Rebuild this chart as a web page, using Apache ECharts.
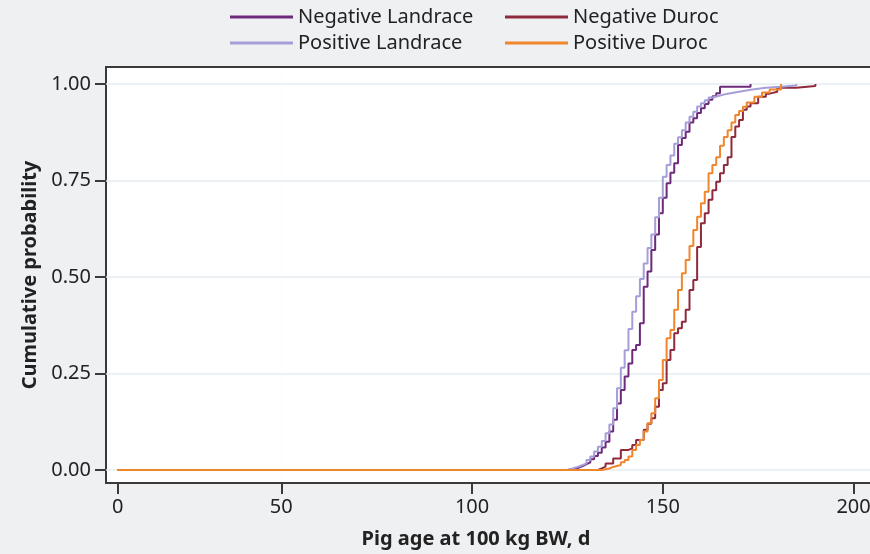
<!DOCTYPE html>
<html><head><meta charset="utf-8">
<script src="https://cdn.jsdelivr.net/npm/echarts@6/dist/echarts.min.js"></script>
<style>html,body{margin:0;padding:0;background:#eff0f2}#c{width:870px;height:554px}</style>
</head><body><div id="c"></div>
<script>
// ---------------- DATA ----------------
const seriesNames = ['Negative Landrace', 'Negative Duroc', 'Positive Landrace', 'Positive Duroc'];
const startDay = 0;

const daysNL = [125,127,128,129,130,131,132,133,134,135,136,137,138,139,140,141,142,143,144,145,146,147,148,149,150,151,152,153,154,155,156,157,158,159,160,161,162,163,164,165,173];
const cumNL  = [0.003,0.006,0.010,0.015,0.020,0.028,0.036,0.045,0.058,0.073,0.100,0.130,0.172,0.207,0.242,0.276,0.311,0.324,0.380,0.475,0.514,0.570,0.610,0.665,0.705,0.743,0.770,0.795,0.842,0.860,0.876,0.900,0.911,0.925,0.937,0.948,0.959,0.968,0.976,0.993,1.000];

const daysND = [133,134,135,137,139,141,142,143,145,146,147,148,149,150,151,152,153,154,155,156,157,158,159,160,161,162,163,164,165,166,167,168,169,170,171,172,173,175,177,178,180,185,190];
const cumND  = [0.004,0.009,0.017,0.030,0.052,0.056,0.065,0.078,0.104,0.120,0.134,0.164,0.207,0.225,0.285,0.311,0.354,0.367,0.384,0.415,0.466,0.492,0.578,0.639,0.665,0.700,0.725,0.747,0.769,0.790,0.810,0.863,0.890,0.907,0.933,0.942,0.950,0.967,0.975,0.980,0.990,0.995,1.000];

const daysPL = [125,126,127,128,129,130,131,132,133,134,135,136,137,138,139,140,141,142,143,144,145,146,147,148,149,150,151,152,153,154,155,156,157,158,159,160,161,162,163,165,167,170,173,177,181,185];
const cumPL  = [0.003,0.006,0.009,0.013,0.017,0.026,0.035,0.048,0.060,0.075,0.095,0.118,0.160,0.212,0.265,0.310,0.365,0.410,0.450,0.495,0.535,0.575,0.610,0.655,0.705,0.760,0.790,0.815,0.845,0.862,0.880,0.900,0.915,0.928,0.942,0.950,0.958,0.965,0.970,0.975,0.980,0.985,0.990,0.993,0.996,1.000];

const daysPD = [134,136,137,139,140,141,142,143,144,145,146,147,148,149,150,151,152,153,154,155,156,157,158,159,160,161,162,163,164,165,166,167,168,169,170,171,172,174,176,178,181];
const cumPD  = [0.004,0.008,0.013,0.020,0.026,0.035,0.052,0.065,0.078,0.100,0.121,0.147,0.186,0.233,0.285,0.341,0.363,0.415,0.466,0.510,0.544,0.580,0.622,0.656,0.691,0.721,0.769,0.790,0.810,0.840,0.863,0.880,0.900,0.920,0.930,0.941,0.952,0.967,0.978,0.986,1.000];

const xTickValues = [0, 50, 100, 150, 200];
const yTickValues = [0, 0.25, 0.5, 0.75, 1];
const xTitle = 'Pig age at 100 kg BW, d';
const yTitle = 'Cumulative probability';

// ---------------- STYLE / LAYOUT ----------------
const colors = ['#6e2a7b', '#8e2a3c', '#a59fd8', '#f0862c'];
const FONT = '"Noto Sans", "Open Sans", sans-serif';
const frame = {left: 106, top: 67, bottom: 483};
const plotTop = 84, plotBottom = 470;            // pixel rows of y = 1 and y = 0
const breakVal = 50;                              // axis section break
const pxZero = 117.7, pxBreak = 281.3, pxPerDayB = 3.815;
const pxPerDayA = (pxBreak - pxZero) / (breakVal - startDay);
const gridBWidth = 620;
const pxPerUnitY = plotBottom - plotTop;
const yMin = -(frame.bottom - plotBottom) / pxPerUnitY;
const yMax = 1 + (plotTop - frame.top) / pxPerUnitY;
const frameH = frame.bottom - frame.top;

const dataSets = [[daysNL, cumNL], [daysND, cumND], [daysPL, cumPL], [daysPD, cumPD]];

const tickStyle = {show: true, length: 11, lineStyle: {color: '#3a3a3a', width: 2}};
const labelStyle = {color: '#222', fontSize: 20, fontFamily: FONT};
const splitStyle = {show: true, lineStyle: {color: '#e4edf1', width: 1.5}};

const series = [];
dataSets.forEach(([d, c], i) => {
  const common = {
    name: seriesNames[i], type: 'line', step: 'end', showSymbol: false, symbol: 'none',
    lineStyle: {width: 2, color: colors[i]}, itemStyle: {color: colors[i]}, animation: false, z: 3
  };
  series.push(Object.assign({}, common, {xAxisIndex: 0, yAxisIndex: 0,
    data: [[startDay, 0], [breakVal, 0]]}));
  series.push(Object.assign({}, common, {xAxisIndex: 1, yAxisIndex: 1,
    data: [[breakVal, 0]].concat(d.map((x, k) => [x, c[k]]))}));
});

const hiddenAxis = {type: 'value', gridIndex: 2, min: 0, max: 1, show: false};

const option = {
  backgroundColor: '#eff0f2',
  animation: false,
  textStyle: {fontFamily: FONT},
  title: {
    text: xTitle, left: 471, top: 524, textAlign: 'center',
    textStyle: {fontFamily: FONT, fontSize: 20, fontWeight: 'bold', color: '#222'}
  },
  legend: [
    {data: [seriesNames[0], seriesNames[2]], orient: 'vertical', left: 230, top: 7,
     itemWidth: 63, itemHeight: 3, icon: 'rect', itemGap: 6, padding: 0, selectedMode: false,
     textStyle: {fontSize: 20, color: '#222', fontFamily: FONT}},
    {data: [seriesNames[1], seriesNames[3]], orient: 'vertical', left: 505, top: 7,
     itemWidth: 63, itemHeight: 3, icon: 'rect', itemGap: 6, padding: 0, selectedMode: false,
     textStyle: {fontSize: 20, color: '#222', fontFamily: FONT}}
  ],
  grid: [
    {left: frame.left, top: frame.top, width: pxBreak - frame.left, height: frameH, show: true,
     backgroundColor: '#ffffff', borderWidth: 0, outerBoundsMode: 'none'},
    {left: pxBreak, top: frame.top, width: gridBWidth, height: frameH, show: true,
     backgroundColor: '#ffffff', borderWidth: 0, outerBoundsMode: 'none'},
    {left: frame.left, top: frame.top, width: 900, height: frameH, show: true,
     backgroundColor: 'transparent', borderColor: '#3a3a3a', borderWidth: 2, outerBoundsMode: 'none'}
  ],
  xAxis: [
    {type: 'value', gridIndex: 0, min: startDay - (pxZero - frame.left) / pxPerDayA, max: breakVal,
     position: 'bottom', axisLine: {show: false, onZero: false}, splitLine: {show: false},
     axisTick: Object.assign({customValues: [xTickValues[0]]}, tickStyle),
     axisLabel: Object.assign({customValues: [xTickValues[0]], margin: 14}, labelStyle)},
    {type: 'value', gridIndex: 1, min: breakVal, max: breakVal + gridBWidth / pxPerDayB,
     position: 'bottom', axisLine: {show: false, onZero: false}, splitLine: {show: false},
     axisTick: Object.assign({customValues: xTickValues.slice(1)}, tickStyle),
     axisLabel: Object.assign({customValues: xTickValues.slice(1), margin: 14}, labelStyle)},
    hiddenAxis
  ],
  yAxis: [
    {type: 'value', gridIndex: 0, min: yMin, max: yMax, position: 'left',
     axisLine: {show: false, onZero: false},
     axisTick: Object.assign({customValues: yTickValues}, tickStyle), splitLine: splitStyle,
     axisLabel: Object.assign({customValues: yTickValues, margin: 15, formatter: v => v.toFixed(2)}, labelStyle),
     name: yTitle, nameLocation: 'middle', nameGap: 66,
     nameTextStyle: {fontFamily: FONT, fontSize: 20, fontWeight: 'bold', color: '#222'}},
    {type: 'value', gridIndex: 1, min: yMin, max: yMax, position: 'left',
     axisLine: {show: false, onZero: false},
     axisTick: {show: false, customValues: yTickValues},
     axisLabel: {show: false, customValues: yTickValues}, splitLine: splitStyle},
    hiddenAxis
  ],
  series: series
};

const chart = echarts.init(document.getElementById('c'), null, {renderer: 'canvas'});
chart.setOption(option);
</script>
</body></html>
